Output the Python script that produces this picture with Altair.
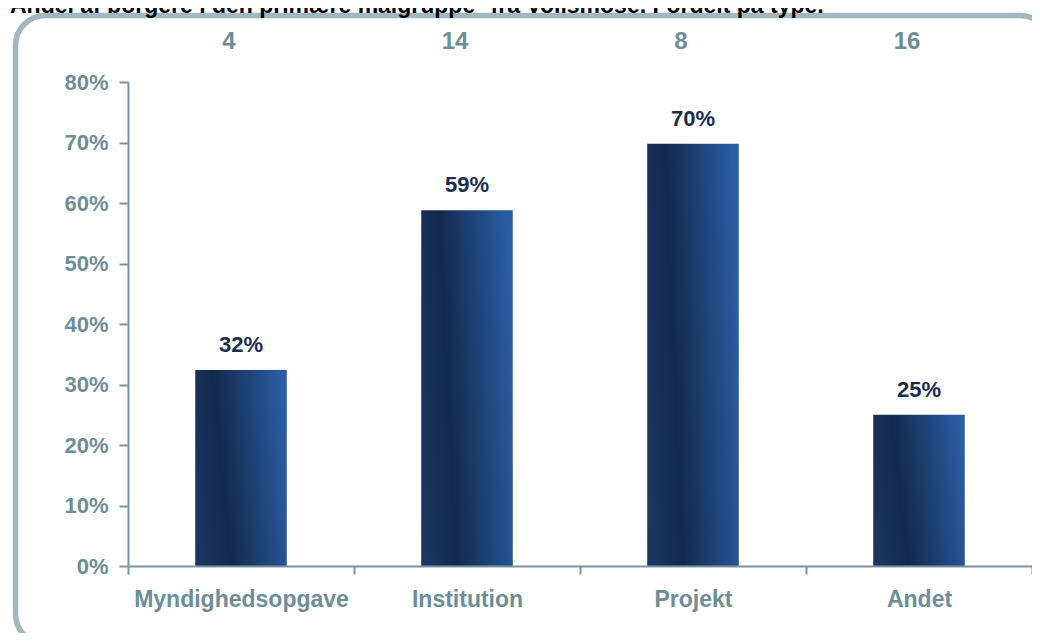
import altair as alt
import pandas as pd

# ---- data ----
categories = ["Myndighedsopgave", "Institution", "Projekt", "Andet"]
shares = [0.324, 0.588, 0.698, 0.25]
counts = [4, 14, 8, 16]
title_text = "Andel af borgere i den primære målgruppe* fra Vollsmose. Fordelt på type."
y_ticks = [0, 0.1, 0.2, 0.3, 0.4, 0.5, 0.6, 0.7, 0.8]

df = pd.DataFrame({"type": categories, "share": shares, "n": counts})

FONT = "Liberation Sans"
GREY = "#6d8d98"
AXIS = "#7896a1"
NAVY = "#1b2d4f"
FRAME = "#a2b7bf"

W, H = 904, 484

x_enc = alt.X(
    "type:N",
    sort=categories,
    scale=alt.Scale(paddingInner=0, paddingOuter=0),
    axis=alt.Axis(
        title=None,
        labelAngle=0,
        bandPosition=0,
        tickBand="extent",
        labelFont=FONT,
        labelFontSize=23,
        labelFontWeight="bold",
        labelColor=GREY,
        labelPadding=14,
        labelLimit=400,
        domainColor=AXIS,
        domainWidth=2,
        tickColor=AXIS,
        tickWidth=2,
        tickSize=8,
        zindex=2,
    ),
)

y_enc = alt.Y(
    "share:Q",
    scale=alt.Scale(domain=[0, 0.8], nice=False),
    axis=alt.Axis(
        title=None,
        format=".0%",
        values=y_ticks,
        grid=False,
        labelFont=FONT,
        labelFontSize=22,
        labelFontWeight="bold",
        labelColor=GREY,
        labelPadding=11,
        domainColor=AXIS,
        domainWidth=2,
        tickColor=AXIS,
        tickWidth=2,
        tickSize=9,
        zindex=2,
    ),
)

frame = alt.Chart(alt.Data(values=[{"a": 1}])).mark_rect(
    fill="white",
    fillOpacity=0,
    stroke=FRAME,
    strokeWidth=5.5,
    cornerRadius=30,
    clip=False,
).encode(
    x=alt.value(-112.5),
    x2=alt.value(922),
    y=alt.value(-66.5),
    y2=alt.value(562),
)

title = alt.Chart(alt.Data(values=[{"t": title_text}])).mark_text(
    font=FONT,
    fontSize=23,
    fontWeight="bold",
    color="#000000",
    align="left",
    baseline="alphabetic",
).encode(
    x=alt.value(-118),
    y=alt.value(-69),
    text="t:N",
)

gradient = alt.Gradient(
    gradient="linear",
    x1=0, y1=0.6, x2=1, y2=0.4,
    stops=[
        alt.GradientStop(offset=0, color="#1a3560"),
        alt.GradientStop(offset=0.3, color="#13294b"),
        alt.GradientStop(offset=1, color="#2a5ca3"),
    ],
)

bars = alt.Chart(df).mark_bar(
    color=gradient,
    width=alt.RelativeBandSize(0.405),
).encode(x=x_enc, y=y_enc)

values = alt.Chart(df).mark_text(
    font=FONT,
    fontSize=22,
    fontWeight="bold",
    color=NAVY,
    baseline="alphabetic",
    dy=-18,
).encode(
    x=alt.X("type:N", sort=categories),
    y="share:Q",
    text=alt.Text("share:Q", format=".0%"),
)

count_text = alt.Chart(df).mark_text(
    font=FONT,
    fontSize=24,
    fontWeight="bold",
    color=GREY,
    baseline="middle",
    dx=-12,
).encode(
    x=alt.X("type:N", sort=categories),
    y=alt.value(-40),
    text="n:Q",
)

chart = (
    alt.layer(frame, title, bars, values, count_text)
    .properties(
        width=W,
        height=H,
        autosize=alt.AutoSizeParams(type="none"),
        padding={"left": 120, "top": 74, "right": 0, "bottom": 67},
        background="white",
    )
    .configure_view(stroke=None)
)

chart.save("out.html", embed_options={"renderer": "svg", "actions": False})
